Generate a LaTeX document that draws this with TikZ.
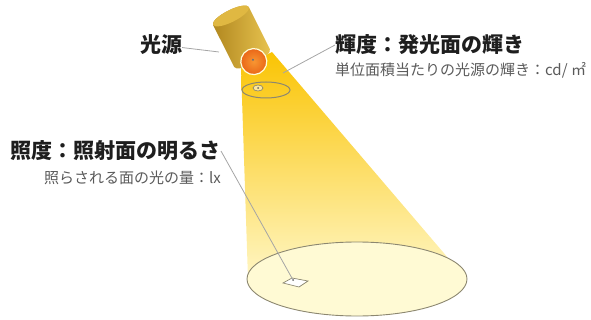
\documentclass[tikz,border=0pt]{standalone}
\usepackage{fontspec}
\setmainfont{Noto Sans CJK JP}
\usetikzlibrary{positioning}
\definecolor{leader}{RGB}{165,165,165}
\definecolor{titletext}{RGB}{30,30,30}
\definecolor{subtext}{RGB}{90,90,90}
\definecolor{beamtop}{RGB}{250,196,4}
\definecolor{beambot}{RGB}{255,246,196}
\definecolor{floorfill}{RGB}{255,250,212}
\definecolor{rimgray}{RGB}{140,135,112}
\definecolor{golddark}{RGB}{176,134,30}
\definecolor{goldlight}{RGB}{232,196,80}
\definecolor{goldtop}{RGB}{224,184,66}
\definecolor{bulbin}{RGB}{248,150,50}
\definecolor{bulbout}{RGB}{232,96,20}

\begin{document}
\begin{tikzpicture}[x=1pt,y=1pt,
  title/.style={inner sep=0pt, text=titletext, font=\fontsize{21}{21}\selectfont\bfseries},
  note/.style={inner sep=0pt, text=subtext, font=\fontsize{15}{15}\selectfont},
  leaderline/.style={draw=leader, line width=0.8pt}]
\useasboundingbox (0,0) rectangle (591,-320);

% beam and lit surfaces
\shade[top color=beamtop, bottom color=beambot]
  (241,-68) -- (248,-279) -- (466,-279) -- (272,-52) -- cycle;
\draw[rimgray, line width=0.9pt, fill=floorfill] (357,-279) ellipse [x radius=110, y radius=37];
\draw[rimgray, line width=1pt] (266,-90) ellipse [x radius=24, y radius=8];
\draw[rimgray, line width=0.7pt, fill=white!60!beamtop] (258,-88) ellipse [x radius=5, y radius=3];
\fill[black!60] (258,-88) circle (1);
\draw[rimgray, line width=0.7pt, fill=white] (283,-283) -- (292,-278) -- (308,-281) -- (299,-287) -- cycle;
\fill[black!60] (293,-280) circle (1);

% lamp
\begin{scope}[shift={(252,-58)}, rotate=26.6]
  \shade[left color=golddark, right color=goldlight]
    (-20,47) -- (-20,0) arc[start angle=180, end angle=360, x radius=20, y radius=6]
    -- (20,47) arc[start angle=0, end angle=180, x radius=20, y radius=6] -- cycle;
  \fill[goldtop] (0,47) ellipse [x radius=20, y radius=6];
  \draw[white!85!yellow, line width=1.2pt, inner color=bulbin, outer color=bulbout] (0,-4) circle (13);
  \fill[black!55] (0,-2) circle (1.2);
\end{scope}

\coordinate (lamp-side) at (219,-52);
\coordinate (beam-spot) at (283,-73);
\coordinate (patch) at (293,-280);

\node[title] (kogen) at (161,-45) {光源};
\node[title, anchor=west] (kido) at (335,-45) {輝度：発光面の輝き};
\node[note, below=7pt of kido.south west, anchor=north west] (kido-note) {単位面積当たりの光源の輝き：cd/ ㎡};
\node[title, anchor=east] (shodo) at (221,-151) {照度：照射面の明るさ};
\node[note, below=9pt of shodo.south east, anchor=north east] (shodo-note) {照らされる面の光の量：lx};

\path[leaderline] (kogen) edge (lamp-side)
  (kido.west) edge (beam-spot)
  (shodo.east) edge (patch);

\end{tikzpicture}
\end{document}
